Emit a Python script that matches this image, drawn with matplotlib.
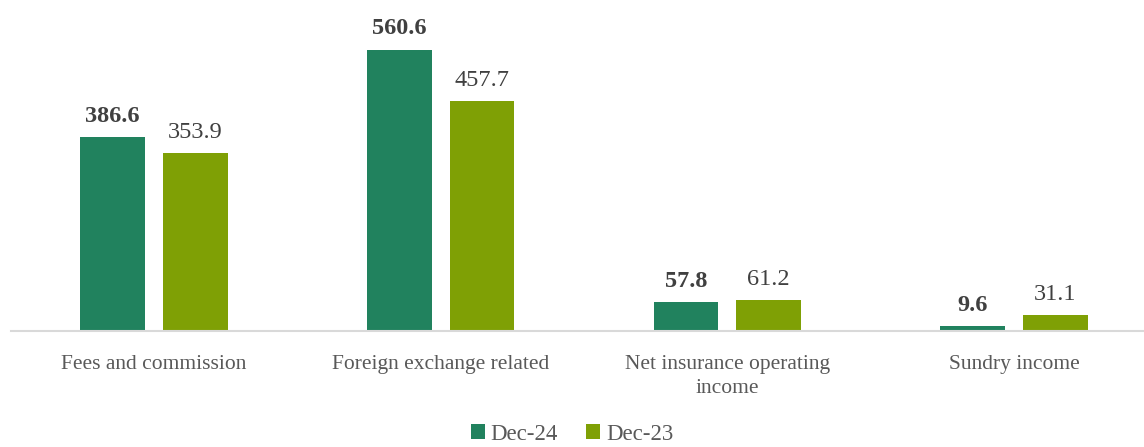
import matplotlib.pyplot as plt
import numpy as np

categories = ["Fees and commission", "Foreign exchange related",
              "Net insurance operating\nincome", "Sundry income"]
dec24 = [386.6, 560.6, 57.8, 9.6]
dec23 = [353.9, 457.7, 61.2, 31.1]

plt.rcParams['font.family'] = ['Liberation Serif', 'DejaVu Serif']

fig = plt.figure(figsize=(11.44, 4.47), dpi=100)
ax = fig.add_axes([10.5 / 1144, 116 / 447, 1147 / 1144, 301 / 447])

x = np.arange(len(categories))
w = 0.226
off = 0.144
b1 = ax.bar(x - off, dec24, w, color="#21825E", label="Dec-24")
b2 = ax.bar(x + off, dec23, w, color="#7FA005", label="Dec-23")

for r, v in zip(b1, dec24):
    ax.annotate(f"{v:.1f}", (r.get_x() + r.get_width() / 2, v), xytext=(0, 7.5),
                textcoords="offset points", ha="center", va="bottom",
                fontsize=17.5, fontweight="bold", color="#404040")
for r, v in zip(b2, dec23):
    ax.annotate(f"{v:.1f}", (r.get_x() + r.get_width() / 2, v), xytext=(0, 7.5),
                textcoords="offset points", ha="center", va="bottom",
                fontsize=17.5, color="#404040")

ax.set_xlim(-0.5, 3.5)
ax.set_ylim(0, 600)
ax.set_xticks(x)
ax.set_xticklabels(categories, fontsize=15.5, color="#595959", linespacing=1.35)
ax.tick_params(axis="x", length=0, pad=17.5)
ax.set_yticks([])
for s in ["top", "right", "left"]:
    ax.spines[s].set_visible(False)
ax.spines["bottom"].set_color("#D9D9D9")
ax.spines["bottom"].set_linewidth(1.5)

fig.legend(loc="center", bbox_to_anchor=(572 / 1144, 1 - 434 / 447), ncol=2, frameon=False,
           fontsize=16.5, handlelength=0.6, handleheight=0.6, handletextpad=0.25,
           columnspacing=1.25, labelcolor="#595959")

fig.savefig("out.png", dpi=100)
